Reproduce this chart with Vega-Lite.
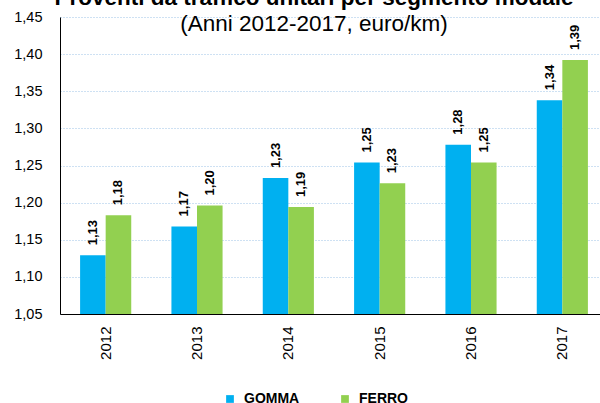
{
  "$schema": "https://vega.github.io/schema/vega-lite/v6.json",
  "width": 548,
  "height": 297,
  "autosize": {"type": "none"},
  "padding": {"left": 60, "top": 17, "right": 0, "bottom": 89},
  "background": "white",
  "title": {
    "text": "Proventi da traffico unitari per segmento modale",
    "subtitle": "(Anni 2012-2017, euro/km)",
    "anchor": "middle",
    "frame": "group",
    "dx": -20,
    "offset": -26.5,
    "subtitlePadding": 4,
    "font": "Liberation Sans",
    "fontSize": 22.5,
    "fontWeight": "bold",
    "color": "black",
    "subtitleFont": "Liberation Sans",
    "subtitleFontSize": 22.5,
    "subtitleColor": "black"
  },
  "data": {
    "values": [
      {"anno": "2012", "segmento": "GOMMA", "valore": 1.129},
      {"anno": "2012", "segmento": "FERRO", "valore": 1.183},
      {"anno": "2013", "segmento": "GOMMA", "valore": 1.168},
      {"anno": "2013", "segmento": "FERRO", "valore": 1.196},
      {"anno": "2014", "segmento": "GOMMA", "valore": 1.233},
      {"anno": "2014", "segmento": "FERRO", "valore": 1.194},
      {"anno": "2015", "segmento": "GOMMA", "valore": 1.254},
      {"anno": "2015", "segmento": "FERRO", "valore": 1.226},
      {"anno": "2016", "segmento": "GOMMA", "valore": 1.278},
      {"anno": "2016", "segmento": "FERRO", "valore": 1.254},
      {"anno": "2017", "segmento": "GOMMA", "valore": 1.338},
      {"anno": "2017", "segmento": "FERRO", "valore": 1.392}
    ]
  },
  "encoding": {
    "x": {
      "field": "anno",
      "type": "nominal",
      "scale": {"paddingInner": 0.44, "paddingOuter": 0.22},
      "axis": {
        "title": null,
        "labelAngle": -90,
        "labelFont": "Liberation Sans",
        "labelFontSize": 15,
        "labelColor": "black",
        "labelPadding": 12,
        "ticks": false,
        "domainColor": "black",
        "domainWidth": 1,
        "grid": false
      }
    },
    "xOffset": {"field": "segmento", "type": "nominal", "sort": ["GOMMA", "FERRO"]},
    "y": {
      "field": "valore",
      "type": "quantitative",
      "scale": {"domain": [1.05, 1.45], "zero": false, "nice": false},
      "axis": {
        "title": null,
        "values": [1.05, 1.1, 1.15, 1.2, 1.25, 1.3, 1.35, 1.4, 1.45],
        "format": ".2f",
        "labelFont": "Liberation Sans",
        "labelFontSize": 14.5,
        "labelColor": "black",
        "labelPadding": 18,
        "ticks": false,
        "domainColor": "black",
        "domainWidth": 1,
        "grid": true,
        "gridColor": "#9DC3E6",
        "gridDash": [1, 2],
        "gridWidth": 1
      }
    }
  },
  "layer": [
    {
      "mark": {"type": "bar", "clip": true},
      "encoding": {
        "color": {
          "field": "segmento",
          "type": "nominal",
          "scale": {"domain": ["GOMMA", "FERRO"], "range": ["#00B0F0", "#92D050"]},
          "legend": {
            "title": null,
            "orient": "none",
            "direction": "horizontal",
            "legendX": 163,
            "legendY": 375,
            "symbolType": "square",
            "symbolSize": 60,
            "symbolStrokeWidth": 0,
            "symbolOpacity": 1,
            "labelFont": "Liberation Sans",
            "labelFontSize": 14,
            "labelFontWeight": "bold",
            "labelColor": "black",
            "labelOffset": 7,
            "columnPadding": 38
          }
        }
      }
    },
    {
      "mark": {
        "type": "text",
        "angle": -90,
        "align": "left",
        "baseline": "middle",
        "dx": 10,
        "font": "Liberation Sans",
        "fontSize": 13,
        "fontWeight": "bold",
        "color": "black"
      },
      "encoding": {
        "text": {"field": "valore", "type": "quantitative", "format": ".2f"}
      }
    }
  ],
  "config": {
    "view": {"stroke": null},
    "locale": {
      "number": {"decimal": ",", "thousands": ".", "grouping": [3], "currency": ["", " €"]}
    }
  }
}
